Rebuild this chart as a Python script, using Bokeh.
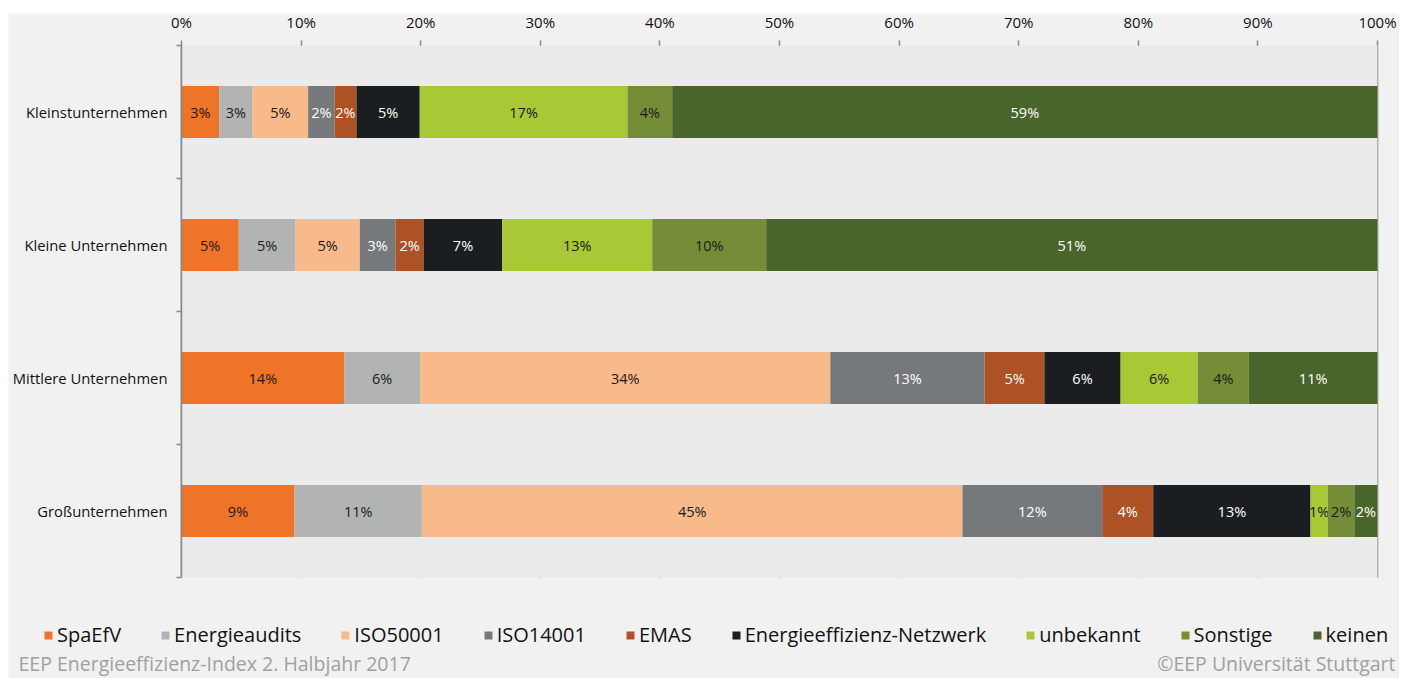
from bokeh.plotting import figure
from bokeh.models import (Range1d, FixedTicker, PrintfTickFormatter, Legend, LegendItem,
                          Label, ColumnDataSource, LinearAxis, BoxAnnotation)
from bokeh.core.properties import value
from bokeh.embed import file_html
from bokeh.resources import INLINE

categories = ["Kleinstunternehmen", "Kleine Unternehmen", "Mittlere Unternehmen", "Großunternehmen"]
series = ["SpaEfV", "Energieaudits", "ISO50001", "ISO14001", "EMAS",
          "Energieeffizienz-Netzwerk", "unbekannt", "Sonstige", "keinen"]
colors = ["#f07427", "#b2b4b4", "#f8b98b", "#76797b", "#ad5225",
          "#1b1e21", "#a8c935", "#768d37", "#4a652c"]
label_colors = ["#1a1a1a", "#1a1a1a", "#1a1a1a", "#ffffff", "#ffffff",
                "#ffffff", "#1a1a1a", "#1a1a1a", "#ffffff"]

kleinst = [3.15, 2.78, 4.66, 2.20, 1.84, 5.29, 17.37, 3.74, 58.97]
kleine = [4.79, 4.74, 5.38, 2.98, 2.37, 6.55, 12.55, 9.53, 51.11]
mittlere = [13.60, 6.35, 34.30, 12.90, 5.00, 6.37, 6.45, 4.27, 10.76]
gross = [9.45, 10.65, 45.20, 11.68, 4.27, 13.15, 1.45, 2.22, 1.93]

x_ticks = [0, 10, 20, 30, 40, 50, 60, 70, 80, 90, 100]
footer_left = "EEP Energieeffizienz-Index 2. Halbjahr 2017"
footer_right = "©EEP Universität Stuttgart"

rows = [kleinst, kleine, mittlere, gross]
FONT = "Open Sans"

# layout geometry (pixels)
W, H, TOP = 1391, 665, 32
PLOT_LEFT, PLOT_W, BAND = 173, 1196, 133
px_per_pct = PLOT_W / 100.0
x_start = -PLOT_LEFT / px_per_pct
x_end = (W - PLOT_LEFT) / px_per_pct
y_top = -TOP / BAND
y_end = (H - TOP) / BAND

p = figure(width=W, height=H, output_backend="svg", toolbar_location=None,
           x_range=Range1d(x_start, x_end), y_range=Range1d(y_end, y_top),
           x_axis_location=None, y_axis_location=None,
           min_border_left=0, min_border_right=0, min_border_top=0, min_border_bottom=0,
           margin=(13, 0, 0, 8))
p.background_fill_color = "#f1f1f1"
p.border_fill_color = "#f1f1f1"
p.outline_line_color = None
p.grid.visible = False

ycenters = [i + 0.5 for i in range(len(categories))]
n = len(categories)

# plot area background
p.add_layout(BoxAnnotation(left=0, right=100, top=0, bottom=n, fill_color="#ebebeb",
                           fill_alpha=1, line_color=None, level="underlay"))
# vertical grid lines
p.segment(x0=x_ticks, y0=[0] * len(x_ticks), x1=x_ticks, y1=[n] * len(x_ticks),
          line_color="#7a7a7a", line_width=1.5, level="underlay")

items = []
for j, name in enumerate(series):
    lefts, rights, ys, mids, labs = [], [], [], [], []
    for i, row in enumerate(rows):
        l = sum(row[:j])
        r = l + row[j]
        lefts.append(l)
        rights.append(r)
        ys.append(ycenters[i])
        mids.append((l + r) / 2)
        labs.append(f"{int(row[j] + 0.5)}%")
    src = ColumnDataSource(dict(left=lefts, right=rights, y=ys, mid=mids, lab=labs))
    rend = p.hbar(y="y", left="left", right="right", height=0.39, source=src,
                  fill_color=colors[j], line_color=None)
    p.text(x="mid", y="y", text="lab", source=src, text_align="center", text_baseline="middle",
           text_font=value(FONT), text_font_size="14.5px", text_color=label_colors[j])
    items.append(LegendItem(label=name, renderers=[rend]))

# x axis (top, fixed at the top of the bars area)
xa = LinearAxis(fixed_location=0)
xa.ticker = FixedTicker(ticks=x_ticks)
xa.formatter = PrintfTickFormatter(format="%d%%")
xa.axis_line_color = None
xa.major_tick_out = 5
xa.major_tick_in = 0
xa.major_tick_line_color = "#888888"
xa.major_tick_line_width = 1.5
xa.minor_tick_line_color = None
xa.major_label_standoff = 9
xa.major_label_text_font = FONT
xa.major_label_text_font_size = "15px"
xa.major_label_text_color = "#111111"
p.add_layout(xa, "above")

# y axis (left, fixed at 0%)
ya = LinearAxis(fixed_location=0, bounds=(0, n))
ya.ticker = FixedTicker(ticks=ycenters, minor_ticks=list(range(n + 1)))
ya.major_label_overrides = {ycenters[i]: categories[i] for i in range(n)}
ya.axis_line_color = "#888888"
ya.axis_line_width = 1.5
ya.major_tick_out = 0
ya.major_tick_in = 0
ya.minor_tick_out = 5
ya.minor_tick_in = 0
ya.minor_tick_line_color = "#888888"
ya.minor_tick_line_width = 1.5
ya.major_label_standoff = 9
ya.major_label_text_font = FONT
ya.major_label_text_font_size = "14.8px"
ya.major_label_text_color = "#111111"
p.add_layout(ya, "left")

legend = Legend(items=items, orientation="horizontal", location=(35, 30),
                padding=0, margin=0, spacing=39, glyph_width=10, glyph_height=10,
                label_standoff=4, background_fill_alpha=0, border_line_alpha=0,
                label_text_font=FONT, label_text_font_size="20px", label_text_color="#111111")
p.add_layout(legend, "center")

p.add_layout(Label(x=10, y=15, x_units="screen", y_units="screen",
                   text=footer_left, text_baseline="middle",
                   text_font=FONT, text_font_size="19.5px", text_color="#a0a0a0"))
p.add_layout(Label(x=W - 4, y=15, x_units="screen", y_units="screen",
                   text=footer_right, text_align="right", text_baseline="middle",
                   text_font=FONT, text_font_size="19.5px", text_color="#a0a0a0"))

open("out.html", "w").write(file_html(p, INLINE))
